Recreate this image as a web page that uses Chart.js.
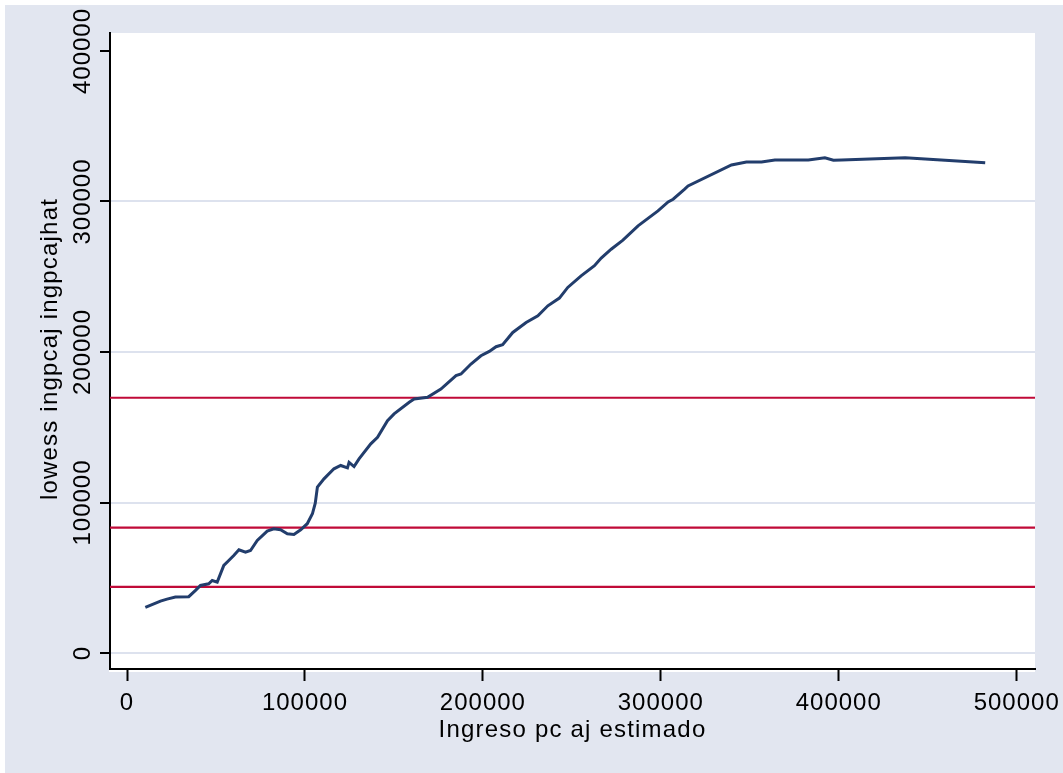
<!DOCTYPE html>
<html>
<head>
<meta charset="utf-8">
<script src="https://cdn.jsdelivr.net/npm/chart.js@4.4.1/dist/chart.umd.min.js"></script>
<style>
  html, body { margin: 0; padding: 0; background: #ffffff; }
  #wrap { position: relative; width: 1063px; height: 773px; }
  canvas { display: block; }
</style>
</head>
<body>
<div id="wrap"><canvas id="c" width="1063" height="773"></canvas></div>
<script>
// Estimated per-capita income (x) and its lowess-smoothed fit (y)
const incomeX = [
  10300, 18800, 22500, 27200, 34700, 38500, 41300, 45900, 47900, 50700,
  54400, 57200, 60000, 62900, 66600, 69400, 73200, 78800, 82500, 86300,
  90100, 93800, 97600, 101300, 104200, 105800, 107000, 110700, 116300, 120100,
  123900, 124800, 127600, 130400, 137000, 140800, 146400, 150100, 158600, 161400,
  168900, 176400, 184900, 187700, 193300, 198900, 203600, 207400, 211100, 216800,
  224300, 230900, 236500, 243000, 247700, 255200, 262700, 266500, 272100, 278700,
  287200, 298400, 304100, 306900, 313400, 315300, 339700, 348100, 356600, 364100,
  382900, 392200, 397000, 401600, 437300, 482300
];
const lowessY = [
  30300, 34500, 35800, 37200, 37400, 41600, 44900, 46000, 48200, 47100,
  58200, 61500, 64800, 68600, 67000, 68100, 74800, 81000, 82500, 81900,
  79200, 78800, 81900, 85900, 92500, 99500, 110200, 115700, 122400, 124600,
  123000, 126700, 123900, 129000, 139000, 143300, 154400, 158900, 166600, 168800,
  169900, 175400, 184300, 185400, 192000, 197500, 200400, 203500, 204800, 213000,
  219600, 224100, 230700, 235800, 242900, 250600, 257300, 262400, 268300, 274300,
  283800, 293800, 299700, 301500, 308200, 310300, 324300, 326300, 326300, 327600,
  327600, 329100, 327400, 327600, 329100, 325800
];
// Reference income thresholds drawn as horizontal lines
const thresholds = [169600, 83300, 44000];
// Axis ticks
const xTicks = [0, 100000, 200000, 300000, 400000, 500000];
const yTicks = [0, 100000, 200000, 300000, 400000];
const xRange = [-9554, 510285];
const yRange = [-10631, 411960];
const xTitle = 'Ingreso pc aj estimado';
const yTitle = 'lowess ingpcaj ingpcajhat';

const BG = '#e2e6f0';
const GRID = '#dde2ee';
const NAVY = '#223d6c';
const RED = '#c00a38';
const FONT = '"Liberation Sans", Arial, sans-serif';

const curve = incomeX.map((x, i) => ({ x: x, y: lowessY[i] }));
const refDatasets = thresholds.map(v => ({
  data: [{ x: xRange[0], y: v }, { x: xRange[1], y: v }],
  borderColor: RED, borderWidth: 2.2, pointRadius: 0, showLine: true, tension: 0, order: 2
}));

const frame = {
  id: 'frame',
  beforeDraw(chart) {
    const ctx = chart.ctx, a = chart.chartArea;
    ctx.save();
    ctx.fillStyle = '#ffffff';
    ctx.fillRect(0, 0, chart.width, chart.height);
    ctx.fillStyle = BG;
    ctx.fillRect(5, 5, chart.width - 5, chart.height - 5);
    ctx.fillStyle = '#ffffff';
    ctx.fillRect(a.left - 1, a.top, a.right - a.left + 1, a.bottom - a.top + 3);
    ctx.restore();
  },
  afterDraw(chart) {
    const ctx = chart.ctx, a = chart.chartArea;
    const xs = chart.scales.x, ys = chart.scales.y;
    ctx.save();
    ctx.fillStyle = '#000000';
    ctx.font = '24px ' + FONT;
    ctx.letterSpacing = '1px';
    ctx.textAlign = 'center';
    ctx.textBaseline = 'alphabetic';
    xTicks.forEach(v => {
      ctx.fillText(String(v), xs.getPixelForValue(v), 710);
    });
    yTicks.forEach(v => {
      ctx.save();
      ctx.translate(90, ys.getPixelForValue(v));
      ctx.rotate(-Math.PI / 2);
      ctx.fillText(String(v), 0, 0);
      ctx.restore();
    });
    ctx.letterSpacing = '1.2px';
    ctx.fillText(xTitle, (a.left + a.right) / 2, 737);
    ctx.save();
    ctx.translate(57, 349);
    ctx.rotate(-Math.PI / 2);
    ctx.fillText(yTitle, 0, 0);
    ctx.restore();
    ctx.restore();
  }
};

new Chart(document.getElementById('c'), {
  type: 'scatter',
  data: {
    datasets: [{
      data: curve,
      borderColor: NAVY, borderWidth: 3, pointRadius: 0,
      showLine: true, tension: 0, order: 1
    }].concat(refDatasets)
  },
  options: {
    responsive: false,
    animation: false,
    devicePixelRatio: 1,
    layout: { padding: { left: 0, top: 33, right: 28, bottom: 0 } },
    plugins: { legend: { display: false }, tooltip: { enabled: false } },
    scales: {
      x: {
        type: 'linear', min: xRange[0], max: xRange[1],
        afterBuildTicks: s => { s.ticks = xTicks.map(v => ({ value: v })); },
        afterFit: s => { s.height = 104; },
        ticks: { display: false },
        grid: { color: 'transparent', drawTicks: true, tickLength: 12, tickColor: '#000', tickWidth: 2 },
        border: { display: true, color: '#000', width: 2 }
      },
      y: {
        type: 'linear', min: yRange[0], max: yRange[1],
        afterBuildTicks: s => { s.ticks = yTicks.map(v => ({ value: v })); },
        afterFit: s => { s.width = 110; },
        ticks: { display: false },
        grid: {
          color: c => (c.tick && c.tick.value === 400000) ? 'transparent' : GRID,
          lineWidth: 2, drawTicks: true, tickLength: 10, tickColor: '#000', tickWidth: 2
        },
        border: { display: true, color: '#000', width: 2 }
      }
    }
  },
  plugins: [frame]
});
</script>
</body>
</html>
